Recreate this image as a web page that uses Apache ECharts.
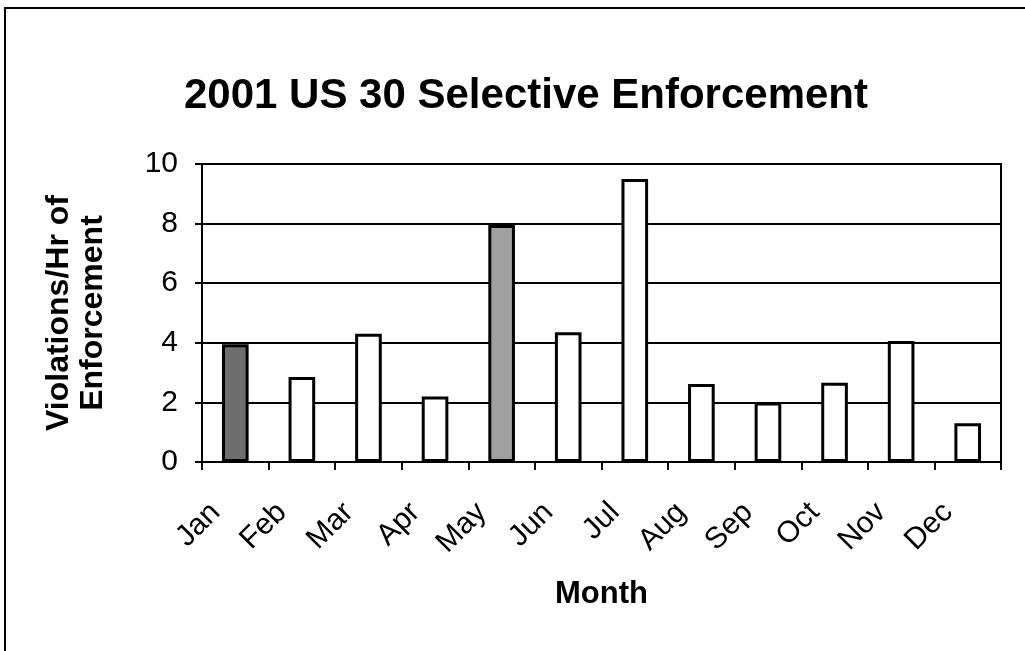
<!DOCTYPE html>
<html>
<head>
<meta charset="utf-8">
<title>2001 US 30 Selective Enforcement</title>
<script src="https://cdn.jsdelivr.net/npm/echarts@6/dist/echarts.min.js"></script>
<style>
  html, body { margin: 0; padding: 0; background: #fff; }
  #chart { width: 1025px; height: 651px; }
</style>
</head>
<body>
<div id="chart"></div>
<script>
// data
const months = ["Jan", "Feb", "Mar", "Apr", "May", "Jun", "Jul", "Aug", "Sep", "Oct", "Nov", "Dec"]
const violationsPerHour = [3.95, 2.85, 4.3, 2.2, 7.95, 4.35, 9.5, 2.62, 2.0, 2.66, 4.06, 1.3]
const yTicks = [0, 2, 4, 6, 8, 10]

// the two bars that came out shaded in the scan
const shaded = { Jan: "#6e6e6e", May: "#a0a0a0" }

const font = "'Liberation Sans', Arial, sans-serif"

const chart = echarts.init(document.getElementById("chart"))
const option = {
  backgroundColor: "#fff",
  animation: false,
  title: {
    text: "2001 US 30 Selective Enforcement",
    left: 521,
    textAlign: "center",
    top: 70,
    textStyle: { fontFamily: font, fontSize: 42, fontWeight: "bold", color: "#000" },
  },
  // outer frame of the pasted chart (only top and left edges show)
  graphic: [
    {
      type: "rect",
      shape: { x: 5, y: 8, width: 1100, height: 700 },
      style: { fill: null, stroke: "#000", lineWidth: 2 },
      silent: true,
    },
  ],
  grid: {
    left: 202,
    right: 24,
    top: 164,
    bottom: 189,
    show: true,
    borderColor: "#000",
    borderWidth: 2,
  },
  xAxis: {
    type: "category",
    data: months,
    name: "Month",
    nameLocation: "middle",
    nameGap: 117,
    nameTextStyle: { fontFamily: font, fontSize: 31, fontWeight: "bold", color: "#000" },
    axisLine: { lineStyle: { color: "#000", width: 2 } },
    axisTick: { show: true, length: 8, lineStyle: { color: "#000", width: 2 } },
    axisLabel: {
      rotate: 45,
      margin: 26,
      padding: [0, 28, 0, 0],
      fontFamily: font,
      fontSize: 30,
      color: "#000",
    },
  },
  yAxis: {
    type: "value",
    min: yTicks[0],
    max: yTicks[yTicks.length - 1],
    interval: 2,
    name: "Violations/Hr of\nEnforcement",
    nameLocation: "middle",
    nameRotate: 90,
    nameGap: 92,
    nameTextStyle: { fontFamily: font, fontSize: 32, fontWeight: "bold", color: "#000", lineHeight: 34 },
    axisLine: { show: true, lineStyle: { color: "#000", width: 2 } },
    axisTick: { show: true, length: 7, lineStyle: { color: "#000", width: 2 } },
    axisLabel: { margin: 24, fontFamily: font, fontSize: 30, color: "#000" },
    splitLine: { show: true, lineStyle: { color: "#000", width: 2 } },
  },
  series: [
    {
      name: "Violations/Hr of Enforcement",
      type: "bar",
      barWidth: "40%",
      data: violationsPerHour.map((v, i) => ({
        value: v,
        itemStyle: { color: shaded[months[i]] || "#fff" },
      })),
      itemStyle: { color: "#fff", borderColor: "#000", borderWidth: 3 },
    },
  ],
}
chart.setOption(option)
window.addEventListener("resize", () => chart.resize())
</script>
</body>
</html>
